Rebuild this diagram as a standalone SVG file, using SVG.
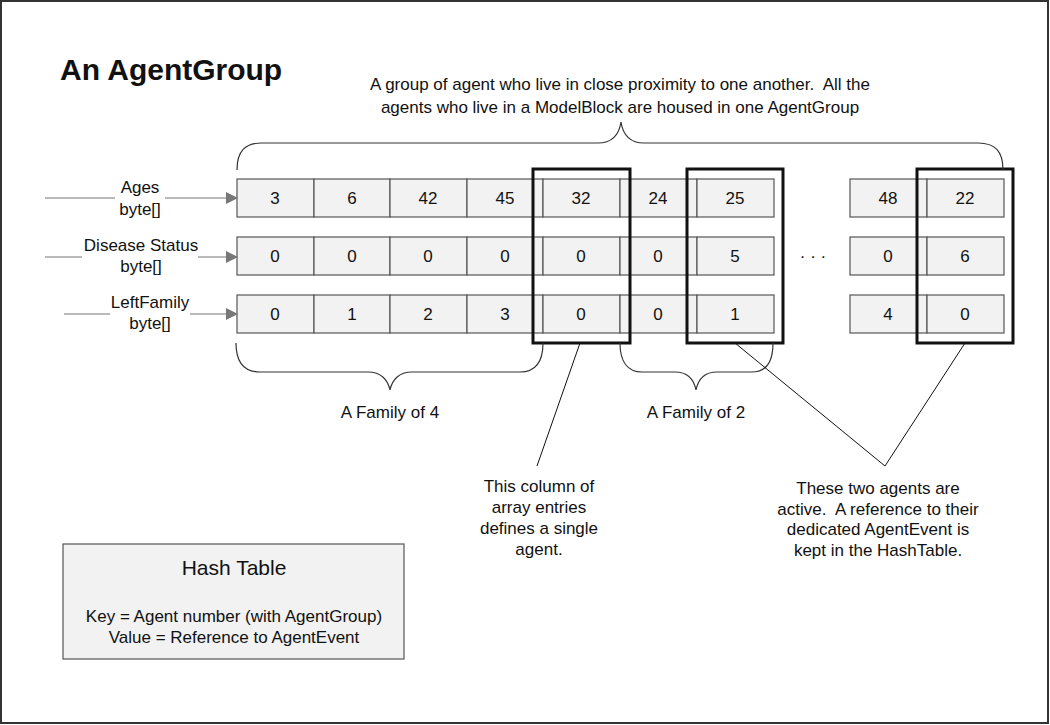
<svg xmlns="http://www.w3.org/2000/svg" width="1050" height="725" viewBox="0 0 1050 725">
<style>
.t{font-family:"Liberation Sans",Arial,sans-serif;font-size:17px;fill:#111;text-anchor:middle;white-space:pre}
.c{fill:#f2f2f2;stroke:#555;stroke-width:1.2}
.b{fill:none;stroke:#111;stroke-width:3}
.br{fill:none;stroke:#333;stroke-width:1.2}
.ln{fill:none;stroke:#111;stroke-width:1}
.ar{fill:none;stroke:#777;stroke-width:1.2}
</style>
<defs>
<marker id="ah" markerWidth="12" markerHeight="12" refX="11" refY="6" orient="auto" markerUnits="userSpaceOnUse">
<path d="M0,0 L12,6 L0,12 Z" fill="#777"/>
</marker>
</defs>
<rect x="1" y="1" width="1047" height="722" fill="#fff" stroke="#333" stroke-width="2"/>
<text x="60" y="80" style="font-family:'Liberation Sans',Arial,sans-serif;font-size:30px;font-weight:bold;fill:#111">An AgentGroup</text>
<g id="top-label">
<text class="t" x="620" y="90" xml:space="preserve">A group of agent who live in close proximity to one another.  All the</text>
<text class="t" x="620" y="113">agents who live in a ModelBlock are housed in one AgentGroup</text>
</g>
<g id="labels">
<text class="t" x="140" y="193">Ages</text>
<text class="t" x="140" y="215">byte[]</text>
<text class="t" x="141" y="251">Disease Status</text>
<text class="t" x="141" y="272">byte[]</text>
<text class="t" x="150" y="308">LeftFamily</text>
<text class="t" x="150" y="329">byte[]</text>
</g>
<g id="ages-array">
<rect class="c" x="237" y="179" width="77" height="38"/><text class="t" x="275" y="204">3</text>
<rect class="c" x="314" y="179" width="76" height="38"/><text class="t" x="352" y="204">6</text>
<rect class="c" x="390" y="179" width="77" height="38"/><text class="t" x="428" y="204">42</text>
<rect class="c" x="467" y="179" width="76" height="38"/><text class="t" x="505" y="204">45</text>
<rect class="c" x="543" y="179" width="77" height="38"/><text class="t" x="581" y="204">32</text>
<rect class="c" x="620" y="179" width="77" height="38"/><text class="t" x="658" y="204">24</text>
<rect class="c" x="697" y="179" width="77" height="38"/><text class="t" x="735" y="204">25</text>
<rect class="c" x="850" y="179" width="77" height="38"/><text class="t" x="888" y="204">48</text>
<rect class="c" x="927" y="179" width="77" height="38"/><text class="t" x="965" y="204">22</text>
</g>
<g id="disease-array">
<rect class="c" x="237" y="237" width="77" height="38"/><text class="t" x="275" y="262">0</text>
<rect class="c" x="314" y="237" width="76" height="38"/><text class="t" x="352" y="262">0</text>
<rect class="c" x="390" y="237" width="77" height="38"/><text class="t" x="428" y="262">0</text>
<rect class="c" x="467" y="237" width="76" height="38"/><text class="t" x="505" y="262">0</text>
<rect class="c" x="543" y="237" width="77" height="38"/><text class="t" x="581" y="262">0</text>
<rect class="c" x="620" y="237" width="77" height="38"/><text class="t" x="658" y="262">0</text>
<rect class="c" x="697" y="237" width="77" height="38"/><text class="t" x="735" y="262">5</text>
<rect class="c" x="850" y="237" width="77" height="38"/><text class="t" x="888" y="262">0</text>
<rect class="c" x="927" y="237" width="77" height="38"/><text class="t" x="965" y="262">6</text>
</g>
<g id="leftfamily-array">
<rect class="c" x="237" y="295" width="77" height="38"/><text class="t" x="275" y="320">0</text>
<rect class="c" x="314" y="295" width="76" height="38"/><text class="t" x="352" y="320">1</text>
<rect class="c" x="390" y="295" width="77" height="38"/><text class="t" x="428" y="320">2</text>
<rect class="c" x="467" y="295" width="76" height="38"/><text class="t" x="505" y="320">3</text>
<rect class="c" x="543" y="295" width="77" height="38"/><text class="t" x="581" y="320">0</text>
<rect class="c" x="620" y="295" width="77" height="38"/><text class="t" x="658" y="320">0</text>
<rect class="c" x="697" y="295" width="77" height="38"/><text class="t" x="735" y="320">1</text>
<rect class="c" x="850" y="295" width="77" height="38"/><text class="t" x="888" y="320">4</text>
<rect class="c" x="927" y="295" width="77" height="38"/><text class="t" x="965" y="320">0</text>
</g>
<g id="ellipsis">
<text class="t" x="813" y="262">· · ·</text>
</g>
<g id="agent-columns">
<rect class="b" x="533" y="169" width="97" height="174"/>
<rect class="b" x="687" y="169" width="96" height="174"/>
<rect class="b" x="917" y="169" width="96" height="174"/>
</g>
<g id="connectors">
<path class="ar" d="M45,198 H115 M165,198 H237" marker-end="url(#ah)"/>
<path class="ar" d="M45,257 H82 M198,257 H237" marker-end="url(#ah)"/>
<path class="ar" d="M64,314 H110 M190,314 H237" marker-end="url(#ah)"/>
<path class="br" d="M237,170 C237,151 245,143 262,143 L598,143 C612,143 619,135 621,122 C623,135 630,143 644,143 L978,143 C995,143 1003,151 1003,170"/>
<path class="br" d="M236,343 C236,362 244,372 260,372 L368,372 C381,372 388,380 390,390 C392,380 399,372 412,372 L520,372 C535,372 543,362 543,343"/>
<path class="br" d="M620,343 C620,362 628,372 642,372 L675,372 C688,372 694,380 696,390 C698,380 704,372 717,372 L752,372 C766,372 773,362 773,343"/>
<path class="ln" d="M580,343 L537,466"/>
<path class="ln" d="M735,343 L885,466 L965,343"/>
</g>
<g id="family-labels">
<text class="t" x="390" y="418">A Family of 4</text>
<text class="t" x="696" y="418">A Family of 2</text>
</g>
<g id="column-note">
<text class="t" x="539" y="492">This column of</text>
<text class="t" x="539" y="513">array entries</text>
<text class="t" x="539" y="534">defines a single</text>
<text class="t" x="539" y="555">agent.</text>
</g>
<g id="active-note">
<text class="t" x="878" y="494">These two agents are</text>
<text class="t" x="878" y="515" xml:space="preserve">active.  A reference to their</text>
<text class="t" x="878" y="535">dedicated AgentEvent is</text>
<text class="t" x="878" y="556">kept in the HashTable.</text>
</g>
<g id="hash-table">
<rect x="63" y="544" width="341" height="115" fill="#f2f2f2" stroke="#555" stroke-width="1.2"/>
<text class="t" x="234" y="575" style="font-size:21px">Hash Table</text>
<text class="t" x="234" y="622">Key = Agent number (with AgentGroup)</text>
<text class="t" x="234" y="643">Value = Reference to AgentEvent</text>
</g>
</svg>
